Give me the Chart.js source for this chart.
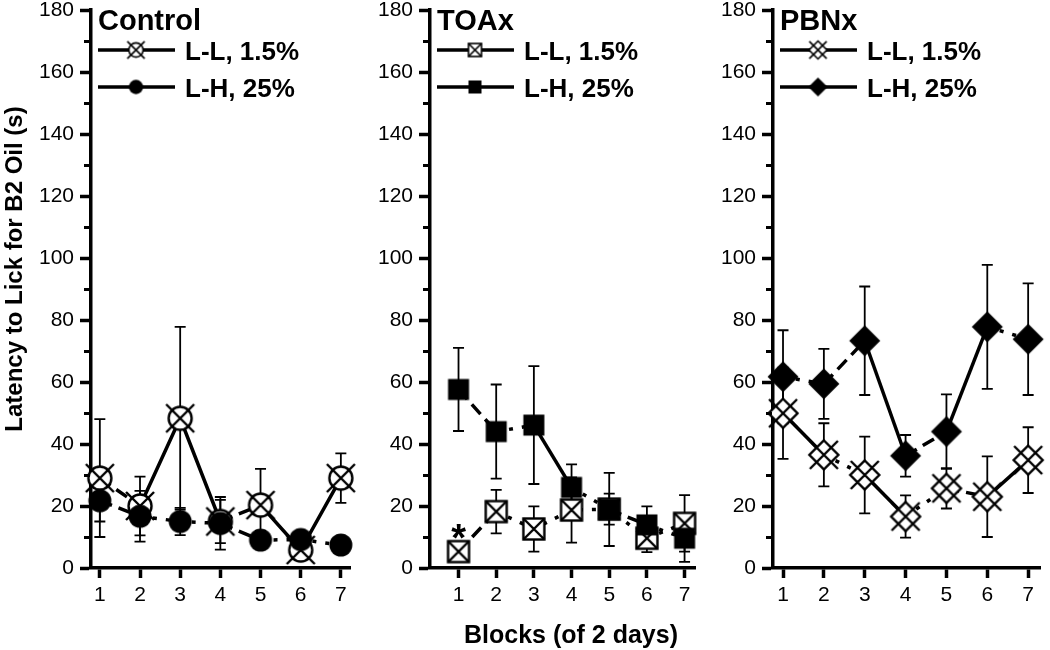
<!DOCTYPE html>
<html>
<head>
<meta charset="utf-8">
<script src="https://cdn.jsdelivr.net/npm/chart.js@4.4.1/dist/chart.umd.min.js"></script>
<style>
  html, body { margin: 0; padding: 0; background: #fff; }
  #wrap { position: relative; width: 1050px; height: 650px; overflow: hidden; }
  .panel { position: absolute; top: 0; width: 360px; height: 650px; }
</style>
</head>
<body>
<div id="wrap">
  <div class="panel" style="left:0px"><canvas id="control"></canvas></div>
  <div class="panel" style="left:345px"><canvas id="toax"></canvas></div>
  <div class="panel" style="left:690px"><canvas id="pbnx"></canvas></div>
</div>
<script>
// blocks on the x axis
const blocks = [1, 2, 3, 4, 5, 6, 7];
const yTicks = [0, 20, 40, 60, 80, 100, 120, 140, 160, 180];

// Control
const controlLL = [29, 20, 48.3, 15, 20.3, 5.8, 29];
const controlLLerr = [19, 9.5, 29.5, 7, 11.7, 1.5, 8];
const controlLH = [21.7, 16.7, 15, 14.4, 9, 9.2, 7.4];
const controlLHerr = [6.7, 8.2, 4.4, 8.5, 3, 1.5, 1.5];

// TOAx
const toaxLL = [5.3, 18.2, 12.6, 18.7, 19, 9.6, 14.4];
const toaxLLerr = [2, 7, 7.3, 10.5, 5, 4.5, 9.1];
const toaxLH = [57.6, 44, 46.1, 26, 18.9, 13.9, 9.6];
const toaxLHerr = [13.4, 15.2, 19, 7.4, 11.8, 6, 7.6];

// PBNx
const pbnxLL = [49.9, 36.5, 30, 16.6, 25.7, 23, 34.8];
const pbnxLLerr = [14.7, 10.2, 12.4, 6.8, 6.5, 13, 10.6];
const pbnxLH = [61.7, 59.4, 73.3, 36.2, 44, 77.8, 73.8];
const pbnxLHerr = [15, 11.3, 17.5, 6.7, 12, 20, 18];

const labelLL = "L-L, 1.5%";
const labelLH = "L-H, 25%";

// how each line piece looks (s solid, d dash, o dot)
const controlLLseg = "dssdss";
const controlLHseg = "doodoo";
const toaxLLseg = "dooooo";
const toaxLHseg = "dosodo";
const pbnxLLseg = "sosods";
const pbnxLHseg = "odsdso";
const segDash = { s: [], d: [13, 7], o: [4, 9] };

Chart.defaults.font.family = '"Liberation Sans", Arial, sans-serif';
Chart.defaults.color = "#000";

function tickFont() {
  const g = document.createElement("canvas").getContext("2d");
  g.font = "24px monospace";
  const base = g.measureText("1408").width;
  g.font = '24px "Liberation Sans Narrow", monospace';
  const narrow = g.measureText("1408").width;
  if (Math.abs(narrow - base) > 0.5) return { family: '"Liberation Sans Narrow"', size: 23 };
  return { family: '"Liberation Sans", Arial, sans-serif', size: 21 };
}
const tFont = tickFont();

function marker(kind, k) {
  const S = Math.ceil(36 * k) + 4;
  const cv = document.createElement("canvas");
  cv.width = S;
  cv.height = S;
  const g = cv.getContext("2d");
  g.translate(S / 2, S / 2);
  g.scale(k, k);
  g.strokeStyle = "#000";
  g.fillStyle = "#000";
  g.lineWidth = k < 1 ? 1.6 / k : 2.4;
  const xcross = (r) => {
    g.beginPath();
    g.moveTo(-r, -r); g.lineTo(r, r);
    g.moveTo(r, -r); g.lineTo(-r, r);
    g.stroke();
  };
  const diamond = (r) => {
    g.beginPath();
    g.moveTo(0, -r); g.lineTo(r, 0); g.lineTo(0, r); g.lineTo(-r, 0);
    g.closePath();
  };
  if (kind === "circleX") {
    g.beginPath(); g.arc(0, 0, 11.5, 0, Math.PI * 2);
    g.fillStyle = "#fff"; g.fill(); g.stroke();
    xcross(14);
  } else if (kind === "circle") {
    g.beginPath(); g.arc(0, 0, 11.5, 0, Math.PI * 2); g.fill();
  } else if (kind === "squareX") {
    g.fillStyle = "#fff";
    g.fillRect(-10.5, -10.5, 21, 21);
    g.strokeRect(-10.5, -10.5, 21, 21);
    xcross(10.5);
  } else if (kind === "square") {
    g.fillRect(-10.5, -10.5, 21, 21);
  } else if (kind === "diamondX") {
    diamond(14.5);
    g.fillStyle = "#fff"; g.fill(); g.stroke();
    xcross(14);
  } else if (kind === "diamond") {
    diamond(15.5); g.fill();
  }
  return cv;
}

function series(label, values, errors, kind, segs) {
  return {
    label: label,
    data: values.map((v, i) => ({ x: blocks[i], y: v })),
    errors: errors,
    kind: kind,
    borderColor: "#000",
    backgroundColor: "#000",
    borderWidth: 3.5,
    borderCapStyle: "butt",
    pointStyle: marker(kind, 1),
    pointRadius: 6,
    clip: false,
    segment: { borderDash: (ctx) => segDash[segs[ctx.p0DataIndex]] },
  };
}

const errorBars = {
  id: "errorBars",
  beforeDatasetsDraw(chart) {
    const { ctx, scales: { x, y } } = chart;
    ctx.save();
    ctx.strokeStyle = "#000";
    ctx.lineWidth = 1.8;
    chart.data.datasets.forEach((ds) => {
      ds.data.forEach((p, i) => {
        const e = ds.errors[i];
        const px = x.getPixelForValue(p.x);
        const hi = y.getPixelForValue(p.y + e);
        const lo = y.getPixelForValue(p.y - e);
        ctx.beginPath();
        ctx.moveTo(px, hi); ctx.lineTo(px, lo);
        ctx.moveTo(px - 5.5, hi); ctx.lineTo(px + 5.5, hi);
        ctx.moveTo(px - 5.5, lo); ctx.lineTo(px + 5.5, lo);
        ctx.stroke();
      });
    });
    ctx.restore();
  },
};

const panelDeco = {
  id: "panelDeco",
  afterDraw(chart, args, opts) {
    const { ctx, chartArea: { left }, scales: { x, y } } = chart;
    ctx.save();
    // minor ticks
    ctx.strokeStyle = "#000";
    ctx.lineWidth = 3;
    for (let v = 10; v < 180; v += 20) {
      const py = Math.round(y.getPixelForValue(v)) + 0.5;
      ctx.beginPath();
      ctx.moveTo(left - 1, py);
      ctx.lineTo(left - 7, py);
      ctx.stroke();
    }
    // title + legend
    ctx.fillStyle = "#000";
    ctx.textAlign = "left";
    ctx.textBaseline = "alphabetic";
    ctx.font = 'bold 29px "Liberation Sans", Arial, sans-serif';
    ctx.fillText(opts.title, left + 7, 30);
    const rows = [50, 87];
    chart.data.datasets
      .slice()
      .sort((a, b) => (a.label === labelLL ? -1 : 1))
      .forEach((ds, i) => {
        const ly = rows[i];
        ctx.lineWidth = 3.5;
        ctx.setLineDash([]);
        ctx.beginPath();
        ctx.moveTo(left + 7, ly);
        ctx.lineTo(left + 84, ly);
        ctx.stroke();
        const m = marker(ds.kind, 0.62);
        ctx.drawImage(m, left + 45 - m.width / 2, ly - m.height / 2);
        ctx.font = 'bold 26px "Liberation Sans", Arial, sans-serif';
        ctx.fillText(ds.label, left + 94, ly + 10);
      });
    // significance marks
    (opts.stars || []).forEach((s) => {
      ctx.font = 'bold 38px "Liberation Sans", Arial, sans-serif';
      ctx.textAlign = "center";
      ctx.fillText("*", x.getPixelForValue(s.x), y.getPixelForValue(s.y) + 22);
    });
    // axis titles
    if (opts.yTitle) {
      ctx.save();
      ctx.translate(opts.yTitle.x, opts.yTitle.y);
      ctx.rotate(-Math.PI / 2);
      ctx.font = 'bold 24px "Liberation Sans", Arial, sans-serif';
      ctx.textAlign = "center";
      ctx.textBaseline = "middle";
      ctx.fillText(opts.yTitle.text, 0, 0);
      ctx.restore();
    }
    if (opts.xTitle) {
      ctx.font = 'bold 25px "Liberation Sans", Arial, sans-serif';
      ctx.textAlign = "center";
      ctx.fillText(opts.xTitle.text, opts.xTitle.x, opts.xTitle.y);
    }
    ctx.restore();
  },
};

function makePanel(id, deco, xMin, xMax, axisWidth, padRight, sets) {
  return new Chart(document.getElementById(id), {
    type: "line",
    data: { datasets: sets },
    options: {
      animation: false,
      responsive: true,
      maintainAspectRatio: false,
      events: [],
      layout: { padding: { top: 10, right: padRight, left: 0, bottom: 0 } },
      plugins: { legend: { display: false }, tooltip: { enabled: false }, panelDeco: deco },
      scales: {
        x: {
          type: "linear",
          min: xMin,
          max: xMax,
          afterFit: (s) => { s.height = 82; s.paddingLeft = 0; s.paddingRight = 0; },
          border: { color: "#000", width: 3.5 },
          grid: { drawOnChartArea: false, tickLength: 10, tickWidth: 3.5, tickColor: "#000" },
          ticks: { stepSize: 1, includeBounds: false, autoSkip: false, maxRotation: 0, padding: 5, font: tFont, color: "#000" },
        },
        y: {
          type: "linear",
          min: yTicks[0],
          max: yTicks[yTicks.length - 1],
          afterFit: (s) => { s.width = axisWidth; s.paddingTop = 0; s.paddingBottom = 0; },
          border: { color: "#000", width: 3.5 },
          grid: { drawOnChartArea: false, tickLength: 11, tickWidth: 3.5, tickColor: "#000" },
          ticks: { stepSize: 20, includeBounds: false, padding: 6, font: tFont, color: "#000" },
        },
      },
    },
    plugins: [errorBars, panelDeco],
  });
}

makePanel(
  "control",
  { title: "Control", yTitle: { text: "Latency to Lick for B2 Oil (s)", x: 15, y: 269 } },
  0.78, 7.24, 91, 4,
  [
    series(labelLH, controlLH, controlLHerr, "circle", controlLHseg),
    series(labelLL, controlLL, controlLLerr, "circleX", controlLLseg),
  ]
);

makePanel(
  "toax",
  { title: "TOAx", stars: [{ x: 1, y: 12.5 }], xTitle: { text: "Blocks (of 2 days)", x: 571 - 345, y: 643 } },
  0.243, 7.29, 85, 5,
  [
    series(labelLH, toaxLH, toaxLHerr, "square", toaxLHseg),
    series(labelLL, toaxLL, toaxLLerr, "squareX", toaxLLseg),
  ]
);

makePanel(
  "pbnx",
  { title: "PBNx" },
  0.755, 7.29, 83, 10,
  [
    series(labelLL, pbnxLL, pbnxLLerr, "diamondX", pbnxLLseg),
    series(labelLH, pbnxLH, pbnxLHerr, "diamond", pbnxLHseg),
  ]
);
</script>
</body>
</html>
